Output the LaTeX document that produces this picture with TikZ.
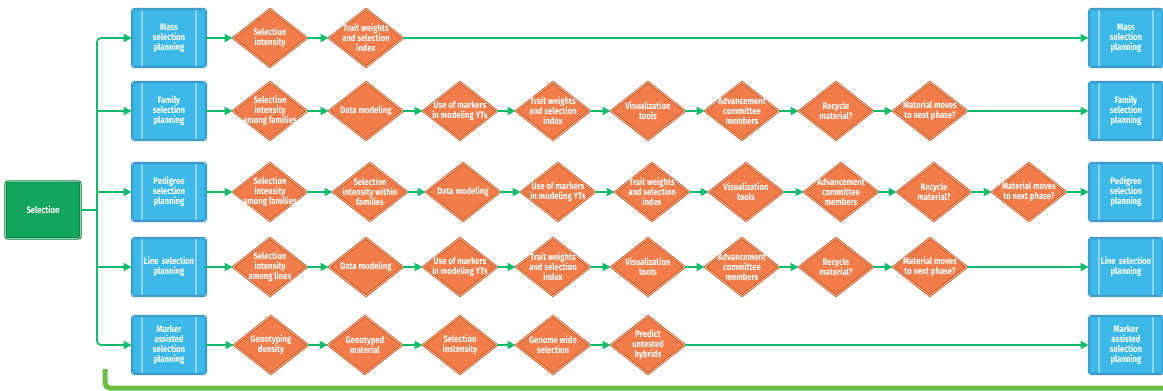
\documentclass[tikz,border=0pt]{standalone}
\usepackage{fontspec}
\newfontfamily\lbl{Fira Sans}[FakeStretch=0.82]
\usetikzlibrary{shapes.geometric,arrows.meta}
\definecolor{skyb}{HTML}{3CB9E8}
\definecolor{deepb}{HTML}{1A7DB3}
\definecolor{lineb}{HTML}{8ED5F2}
\definecolor{orng}{HTML}{F27C4A}
\definecolor{dorng}{HTML}{C8511C}
\definecolor{lorng}{HTML}{FBC3A6}
\definecolor{selg}{HTML}{12A65C}
\definecolor{dselg}{HTML}{0B7A44}
\definecolor{lselg}{HTML}{7FD3A5}
\definecolor{flow}{HTML}{14BA6C}
\definecolor{band}{HTML}{6CBD45}
% centred multi-line label that does not widen the decision shape
\newcommand{\dtext}[1]{\smash{\makebox[0pt]{\raisebox{-2.4pt}{\parbox[c]{90pt}{\centering #1}}}}}
\tikzset{
  dia/.style={diamond, minimum width=74pt, minimum height=58pt, inner sep=0pt,
    fill=orng, draw=dorng, line width=0.8pt, double=lorng, double distance=0.7pt, text=white},
  planbox/.style={rectangle, rounded corners=2.5pt, minimum width=74pt, minimum height=58pt,
    inner sep=0pt, text width=72pt, align=center, fill=skyb, draw=deepb, line width=0.7pt,
    double=lineb, double distance=0.7pt, text=white,
    path picture={
      \draw[deepb, line width=0.6pt, double=lineb, double distance=1.6pt]
        ([xshift=10pt]path picture bounding box.north west) -- ([xshift=10pt]path picture bounding box.south west);
      \draw[deepb, line width=0.6pt, double=lineb, double distance=1.6pt]
        ([xshift=-10pt]path picture bounding box.north east) -- ([xshift=-10pt]path picture bounding box.south east);
    }},
  selbox/.style={rectangle, rounded corners=2.5pt, minimum width=75pt, minimum height=57pt,
    fill=selg, draw=dselg, line width=0.8pt, double=lselg, double distance=0.8pt, text=white},
  link/.style={draw=flow, line width=1.8pt, -{Triangle[length=8pt,width=8pt]}},
}
\begin{document}
\begin{tikzpicture}[x=1pt, y=-1pt, font=\lbl\bfseries\fontsize{9.4}{10}\selectfont]
\useasboundingbox (0,0) rectangle (1163,391);

% start node and planning boxes
\node[selbox] (sel) at (43,210) {Selection};
\node[planbox] (mL) at (169,38)  {Mass\\selection\\planning};
\node[planbox] (fL) at (169,111) {Family\\selection\\planning};
\node[planbox] (pL) at (169,192) {Pedigree\\selection\\planning};
\node[planbox] (lL) at (169,267) {Line selection\\planning};
\node[planbox] (kL) at (169,345) {Marker\\assisted\\selection\\planning};
\node[planbox] (mR) at (1126,38)  {Mass\\selection\\planning};
\node[planbox] (fR) at (1126,111) {Family\\selection\\planning};
\node[planbox] (pR) at (1126,192) {Pedigree\\selection\\planning};
\node[planbox] (lR) at (1126,267) {Line selection\\planning};
\node[planbox] (kR) at (1126,345) {Marker\\assisted\\selection\\planning};

% mass selection
\foreach \x/\t [count=\i] in {270/{Selection\\intensity}, 366/{Trait weights\\and selection\\index}}
  \node[dia] (m\i) at (\x,38) {\dtext{\t}};

% family selection
\foreach \x/\t [count=\i] in {270/{Selection\\intensity\\among families}, 366/{Data modeling},
    460/{Use of markers\\in modeling YTs}, 553/{Trait weights\\and selection\\index},
    648/{Visualization\\tools}, 742/{Advancement\\committee\\members},
    836/{Recycle\\material?}, 930/{Material moves\\to next phase?}}
  \node[dia] (f\i) at (\x,111) {\dtext{\t}};

% pedigree selection
\foreach \x/\t [count=\i] in {270/{Selection\\intensity\\among families},
    370/{Selection\\intensity within\\families}, 463/{Data modeling},
    558/{Use of markers\\in modeling YTs}, 652/{Trait weights\\and selection\\index},
    746/{Visualization\\tools}, 841/{Advancement\\committee\\members},
    934/{Recycle\\material?}, 1029/{Material moves\\to next phase?}}
  \node[dia] (p\i) at (\x,192) {\dtext{\t}};

% line selection
\foreach \x/\t [count=\i] in {270/{Selection\\intensity\\among lines}, 366/{Data modeling},
    460/{Use of markers\\in modeling YTs}, 553/{Trait weights\\and selection\\index},
    648/{Visualization\\tools}, 742/{Advancement\\committee\\members},
    836/{Recycle\\material?}, 930/{Material moves\\to next phase?}}
  \node[dia] (l\i) at (\x,267) {\dtext{\t}};

% marker assisted selection
\foreach \x/\t [count=\i] in {271/{Genotyping\\density}, 365/{Genotyped\\material},
    460/{Selection\\instensity}, 553/{Genome wide\\selection},
    648/{Predict\\untested\\hybrids}}
  \node[dia] (k\i) at (\x,345) {\dtext{\t}};

% branching trunk
\coordinate (t1) at (97,38);
\coordinate (t2) at (97,111);
\coordinate (t3) at (97,192);
\coordinate (ts) at (97,210);
\coordinate (t4) at (97,267);
\coordinate (t5) at (97,345);
\draw[draw=flow, line width=1.8pt] (sel) -- (ts);
\draw[link, {Triangle[length=8pt,width=8pt]}-{Triangle[length=8pt,width=8pt]}, rounded corners=4pt]
  (mL) -- (t1) -- (t5) -- (kL);
\draw[link] (t2) -- (fL);
\draw[link] (t3) -- (pL);
\draw[link] (t4) -- (lL);

% row connectors
\draw[link] (mL) -- (m1);
\draw[link] (m1) -- (m2);
\draw[link] (m2) -- (mR);

\draw[link] (fL) -- (f1);
\foreach \i [evaluate=\i as \j using int(\i+1)] in {1,...,7} \draw[link] (f\i) -- (f\j);
\draw[link] (f8) -- (fR);

\draw[link] (pL) -- (p1);
\foreach \i [evaluate=\i as \j using int(\i+1)] in {1,...,8} \draw[link] (p\i) -- (p\j);
\draw[link] (p9) -- (pR);

\draw[link] (lL) -- (l1);
\foreach \i [evaluate=\i as \j using int(\i+1)] in {1,...,7} \draw[link] (l\i) -- (l\j);
\draw[link] (l8) -- (lR);

\draw[link] (kL) -- (k1);
\foreach \i [evaluate=\i as \j using int(\i+1)] in {1,...,4} \draw[link] (k\i) -- (k\j);
\draw[link] (k5) -- (kR);

% feedback band along the bottom
\coordinate (b0) at (105,369);
\coordinate (b1) at (105,388);
\coordinate (b2) at (1175,388);
\draw[draw=band, line width=5pt, rounded corners=5pt] (b0) -- (b1) -- (b2);
\end{tikzpicture}
\end{document}
